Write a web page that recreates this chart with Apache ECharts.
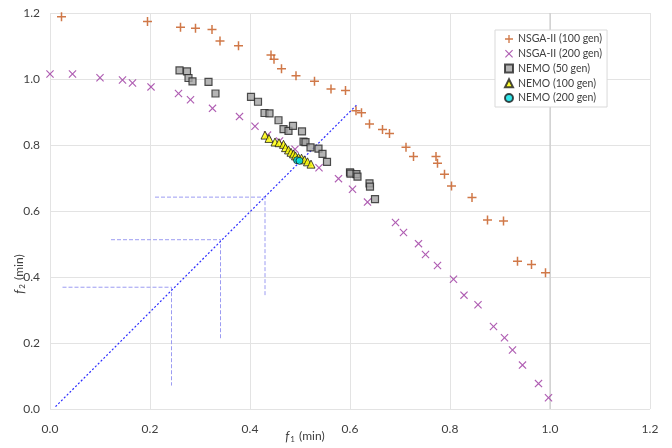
<!DOCTYPE html>
<html>
<head>
<meta charset="utf-8">
<script src="https://cdn.jsdelivr.net/npm/echarts@6/dist/echarts.min.js"></script>
<style>html,body{margin:0;padding:0;background:#fff}#c{width:672px;height:448px}</style>
</head>
<body>
<div id="c"></div>
<script>
const xTicks = [0.0, 0.2, 0.4, 0.6, 0.8, 1.0, 1.2];
const yTicks = [0.0, 0.2, 0.4, 0.6, 0.8, 1.0, 1.2];
const seriesNames = ['NSGA-II (100 gen)', 'NSGA-II (200 gen)', 'NEMO (50 gen)', 'NEMO (100 gen)', 'NEMO (200 gen)'];

const nsga100 = [[0.023,1.189],[0.195,1.174],[0.261,1.157],[0.291,1.154],[0.324,1.150],[0.340,1.115],[0.377,1.101],[0.442,1.073],[0.448,1.060],[0.463,1.031],[0.492,1.010],[0.529,0.993],[0.562,0.970],[0.591,0.965],[0.612,0.904],[0.623,0.898],[0.639,0.864],[0.665,0.847],[0.679,0.835],[0.712,0.793],[0.727,0.765],[0.772,0.765],[0.775,0.745],[0.789,0.711],[0.803,0.676],[0.844,0.641],[0.875,0.573],[0.907,0.570],[0.935,0.448],[0.963,0.438],[0.991,0.413]];
const nsga200 = [[0.000,1.015],[0.045,1.015],[0.100,1.004],[0.145,0.997],[0.165,0.988],[0.202,0.976],[0.257,0.956],[0.281,0.937],[0.325,0.911],[0.379,0.886],[0.410,0.857],[0.435,0.830],[0.459,0.812],[0.490,0.787],[0.538,0.731],[0.577,0.698],[0.605,0.666],[0.635,0.627],[0.691,0.565],[0.707,0.535],[0.737,0.501],[0.751,0.468],[0.775,0.435],[0.807,0.393],[0.828,0.345],[0.856,0.316],[0.887,0.250],[0.909,0.216],[0.925,0.179],[0.945,0.133],[0.977,0.077],[0.997,0.034]];
const nemo50 = [[0.259,1.026],[0.274,1.023],[0.277,1.003],[0.285,0.993],[0.317,0.991],[0.331,0.956],[0.402,0.946],[0.416,0.931],[0.429,0.897],[0.439,0.896],[0.457,0.875],[0.467,0.848],[0.477,0.843],[0.486,0.858],[0.504,0.841],[0.507,0.810],[0.511,0.809],[0.521,0.793],[0.537,0.789],[0.545,0.773],[0.554,0.749],[0.600,0.717],[0.601,0.713],[0.613,0.712],[0.615,0.704],[0.639,0.684],[0.640,0.674],[0.650,0.636]];
const nemo100 = [[0.430,0.830],[0.438,0.820],[0.450,0.809],[0.458,0.807],[0.467,0.802],[0.471,0.792],[0.477,0.785],[0.482,0.778],[0.487,0.773],[0.491,0.767],[0.497,0.762],[0.503,0.760],[0.509,0.755],[0.515,0.749],[0.522,0.742]];
const nemo200 = [[0.494,0.754],[0.499,0.752]];

const diagLine = [[0.011,0.007],[0.613,0.921]];
const guide1 = [[0.025,0.369],[0.243,0.369],[0.243,0.071]];
const guide2 = [[0.122,0.513],[0.341,0.513],[0.341,0.214]];
const guide3 = [[0.210,0.642],[0.430,0.642],[0.430,0.343]];
const refLineX1 = [[1.0,0.0],[1.0,1.2]];

const plusPath = 'path://M5,0H7V5H12V7H7V12H5V7H0V5H5Z';
const crossPath = 'path://M0,1.2L1.2,0L6,4.8L10.8,0L12,1.2L7.2,6L12,10.8L10.8,12L6,7.2L1.2,12L0,10.8L4.8,6Z';

const FONT = 'Lato';
const chart = echarts.init(document.getElementById('c'), null, {renderer: 'canvas'});

function guideSeries(d, color, type, width) {
  return {
    type: 'line', data: d, symbol: 'none', silent: true, z: 1,
    lineStyle: {color: color, width: width || 1, type: type},
    animation: false
  };
}

const nameRich = {
  f: {fontStyle: 'italic', fontSize: 12.5, color: '#404040', fontFamily: FONT},
  s: {fontSize: 8, color: '#404040', fontFamily: FONT, padding: [5, 1, 0, 1]},
  n: {fontSize: 12, color: '#404040', fontFamily: FONT}
};

chart.setOption({
  animation: false,
  backgroundColor: '#ffffff',
  textStyle: {fontFamily: FONT},
  grid: {left: 50, right: 22, top: 13, bottom: 39, containLabel: false, outerBoundsMode: 'none'},
  legend: {
    orient: 'vertical', left: 495, top: 30,
    data: seriesNames,
    itemWidth: 8, itemHeight: 8, itemGap: 0.75,
    padding: [2, 5, 2, 9],
    borderColor: '#d9d9d9', borderWidth: 1,
    backgroundColor: '#ffffff',
    textStyle: {fontSize: 10.5, color: '#404040', fontFamily: FONT, lineHeight: 14}
  },
  xAxis: {
    type: 'value', min: 0, max: 1.2, interval: 0.2,
    axisLine: {show: false}, axisTick: {show: false},
    axisLabel: {color: '#404040', fontSize: 12, margin: 14, formatter: v => v.toFixed(1)},
    splitLine: {show: true, lineStyle: {color: '#e3e3e3', width: 1}},
    name: '{f|f}{s|1}{n| (min)}', nameLocation: 'middle', nameGap: 21, nameMoveOverlap: false,
    nameTextStyle: {rich: nameRich, padding: [0, 90, 0, 0]}
  },
  yAxis: {
    type: 'value', min: 0, max: 1.2, interval: 0.2,
    axisLine: {show: false}, axisTick: {show: false},
    axisLabel: {color: '#404040', fontSize: 12, margin: 10, formatter: v => v.toFixed(1)},
    splitLine: {show: true, lineStyle: {color: '#e3e3e3', width: 1}},
    name: '{f|f}{s|2}{n| (min)}', nameLocation: 'middle', nameGap: 24, nameMoveOverlap: false,
    nameTextStyle: {rich: nameRich, padding: [0, 126, 0, 0]}
  },
  series: [
    guideSeries(refLineX1, '#c4c4c4', 'solid'),
    guideSeries(guide1, '#9c9cf2', 'dashed'),
    guideSeries(guide2, '#9c9cf2', 'dashed'),
    guideSeries(guide3, '#9c9cf2', 'dashed'),
    guideSeries(diagLine, '#2e2eff', [2, 2], 1.2),
    {
      name: seriesNames[0], type: 'scatter', data: nsga100, z: 3,
      symbol: plusPath, symbolSize: 9,
      itemStyle: {color: '#c4561a'}
    },
    {
      name: seriesNames[1], type: 'scatter', data: nsga200, z: 3,
      symbol: crossPath, symbolSize: 8,
      itemStyle: {color: '#9b359f'}
    },
    {
      name: seriesNames[2], type: 'scatter', data: nemo50, z: 4,
      symbol: 'rect', symbolSize: 7,
      itemStyle: {color: '#a3a3a3', borderColor: '#262626', borderWidth: 1.2}
    },
    {
      name: seriesNames[3], type: 'scatter', data: nemo100, z: 5,
      symbol: 'triangle', symbolSize: 8,
      itemStyle: {color: '#ffff00', borderColor: '#1a1a1a', borderWidth: 1}
    },
    {
      name: seriesNames[4], type: 'scatter', data: nemo200, z: 6,
      symbol: 'circle', symbolSize: 7,
      itemStyle: {color: '#00e1e6', borderColor: '#1a1a1a', borderWidth: 1}
    }
  ]
});
</script>
</body>
</html>
